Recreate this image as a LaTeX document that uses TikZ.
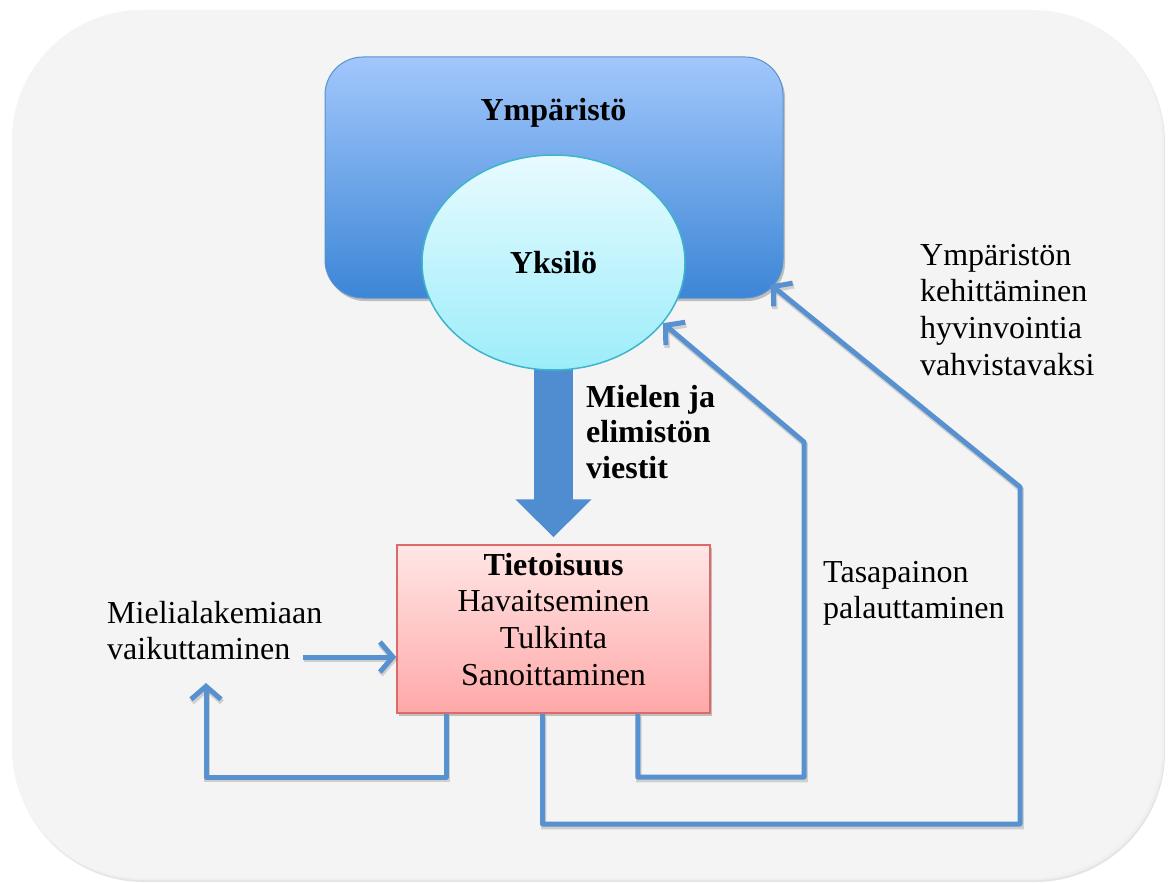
\documentclass[tikz,border=0pt]{standalone}
\usepackage{fontspec}
\setmainfont{Liberation Serif}
\usetikzlibrary{arrows.meta,calc,shapes.geometric,shadows}

\definecolor{bgfill}{HTML}{F4F4F4}
\definecolor{envtop}{HTML}{A2C7FC}
\definecolor{envbot}{HTML}{3C86D6}
\definecolor{envline}{HTML}{5A92CC}
\definecolor{yktop}{HTML}{E8FBFF}
\definecolor{ykbot}{HTML}{9CEDFA}
\definecolor{ykline}{HTML}{3DB5CB}
\definecolor{tttop}{HTML}{FFE6E6}
\definecolor{ttbot}{HTML}{FFA8A8}
\definecolor{ttline}{HTML}{DD6A6A}
\definecolor{flowblue}{HTML}{5891D0}
\definecolor{bigblue}{HTML}{4F8DD0}

\pgfdeclarelayer{back}
\pgfdeclarelayer{under}
\pgfsetlayers{back,under,main}

% text blocks whose reference point is the baseline of the first line
\newcommand\leftblock[1]{\begin{tabular}[t]{@{}l@{}}#1\end{tabular}}
\newcommand\centerblock[1]{\begin{tabular}[t]{@{}c@{}}#1\end{tabular}}

\begin{document}
\begin{tikzpicture}[x=1pt,y=-1pt,
  bigfont/.style={font=\fontsize{32}{36.8}\selectfont},
  txt/.style={bigfont, inner sep=0pt, anchor=base west},
  boxshadow/.style={drop shadow={shadow xshift=2pt, shadow yshift=-3pt, opacity=0.22, fill=black}},
  flow/.style={draw=flowblue, line width=5pt, line join=round,
    -{Straight Barb[length=13pt,width=30pt]},
    preaction={draw=black, draw opacity=0.15, line width=5.5pt,
      transform canvas={shift={(1pt,-2.5pt)}}}},
]
\useasboundingbox (0,0) rectangle (1170,883);

% page and rounded backdrop
\begin{pgfonlayer}{back}
  \fill[white] (0,0) rectangle (1170,883);
  \fill[black!10, rounded corners=130pt] (14,13) rectangle (1165,882);
  \fill[black!6, rounded corners=130pt] (13,11) rectangle (1164,880);
  \fill[bgfill, rounded corners=130pt] (12,10) rectangle (1162,878);
\end{pgfonlayer}

% environment box
\node[draw=envline, line width=1pt, rounded corners=38pt,
      top color=envtop, bottom color=envbot,
      minimum width=458pt, minimum height=241pt, boxshadow] (env) at (554,177.5) {};
\node[font=\fontsize{32}{36.8}\selectfont\bfseries, inner sep=0pt, anchor=base]
  (envlbl) at (553.5,120) {Ympäristö};

% individual
\node[ellipse, draw=ykline, line width=1.5pt, top color=yktop, bottom color=ykbot,
      minimum width=263pt, minimum height=215pt, inner sep=0pt,
      font=\fontsize{32}{36.8}\selectfont\bfseries] (yk) at (553.5,262.5) {Yksilö};

% awareness box
\node[draw=ttline, line width=1.5pt, top color=tttop, bottom color=ttbot,
      minimum width=313pt, minimum height=168pt, boxshadow] (tt) at (553.5,629) {};
\node[bigfont, inner sep=0pt, anchor=base] (ttlbl) at (553.5,575)
  {\centerblock{\textbf{Tietoisuus}\\Havaitseminen\\Tulkinta\\Sanoittaminen}};

% thick arrow from the individual to awareness
\begin{pgfonlayer}{under}
  \draw[bigblue, line width=39pt, -{Triangle[width=74pt,length=38pt]}]
    (yk.center) -- ($(tt.north)+(0,-7)$);
\end{pgfonlayer}

% labels
\node[txt, font=\fontsize{32}{35.5}\selectfont\bfseries] (msg) at (586,407)
  {\leftblock{Mielen ja\\elimistön\\viestit}};
\node[txt] (mood) at (107,623) {\leftblock{Mielialakemiaan\\vaikuttaminen}};
\node[txt] (bal) at (823,582) {\leftblock{Tasapainon\\palauttaminen}};
\node[txt] (dev) at (920,265) {\leftblock{Ympäristön\\kehittäminen\\hyvinvointia\\vahvistavaksi}};

% connector points
\coordinate (minstart) at (303,657);
\coordinate (lcorner) at (206,777);
\coordinate (ltip) at (206,683);
\coordinate (mcorner) at (804,777);
\coordinate (mtop) at (804,442);
\coordinate (ocorner) at (1020,824);
\coordinate (otop) at (1020,487);
\coordinate (envtip) at ($(env.south east)+(-13,-14)$);

% feedback loops
\draw[flow] (minstart) -- (minstart -| tt.west);
\draw[flow] ($(tt.south west)+(50,0)$) |- (lcorner) -- (ltip);
\draw[flow] ($(tt.south east)+(-73,0)$) |- (mcorner) -- (mtop) -- (yk.-29.3);
\draw[flow] ($(tt.south)+(-11,0)$) |- (ocorner) -- (otop) -- (envtip);
\end{tikzpicture}
\end{document}
